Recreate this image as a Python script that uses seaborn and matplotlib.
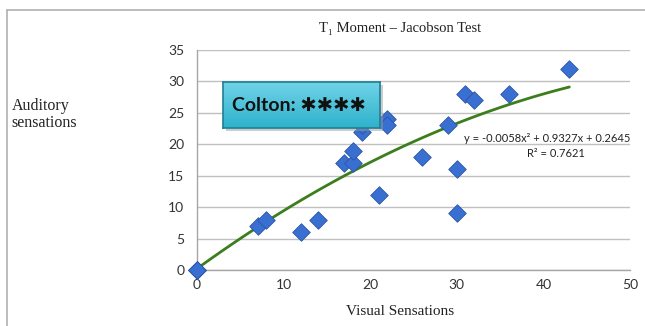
import matplotlib
matplotlib.use('Agg')
import matplotlib.pyplot as plt
import seaborn as sns
import numpy as np
import pandas as pd
from matplotlib.lines import Line2D

# values
visual = [0, 0, 0, 7, 8, 12, 14, 17, 18, 18, 19, 19, 21, 22, 22, 26, 29, 30, 30, 31, 32, 36, 43]
auditory = [0, 0, 0, 7, 8, 6, 8, 17, 17, 19, 22, 23, 12, 24, 23, 18, 23, 16, 9, 28, 27, 28, 32]
y_ticks = [0, 5, 10, 15, 20, 25, 30, 35]
x_ticks = [0, 10, 20, 30, 40, 50]
equation = "y = -0.0058x² + 0.9327x + 0.2645"
r_squared = "R² = 0.7621"

df = pd.DataFrame({"Visual": visual, "Auditory": auditory})

sns.set_style("white")
plt.rcParams['font.family'] = ['Lato', 'DejaVu Sans']

fig = plt.figure(figsize=(6.45, 3.26), dpi=100)
ax = fig.add_axes([0.3054, 0.1718, 0.6713, 0.6748])

# quadratic trendline, fitted by seaborn
sns.regplot(data=df, x="Visual", y="Auditory", order=2, ci=None, scatter=False,
            truncate=True, line_kws={"color": "#3c7d1c", "lw": 2.0, "zorder": 2}, ax=ax)
sns.scatterplot(data=df, x="Visual", y="Auditory", marker="D", s=80, color="#3a6fd2",
                edgecolor="#2a55a8", linewidth=0.6, zorder=3, clip_on=False, ax=ax)

ax.set_xlim(0, 50)
ax.set_ylim(0, 35)
ax.set_xticks(x_ticks)
ax.set_yticks(y_ticks)
ax.set_xlabel("")
ax.set_ylabel("")
ax.yaxis.grid(True, color="#c0c0c0", lw=1.0)
ax.set_axisbelow(True)
for side in ["top", "right"]:
    ax.spines[side].set_visible(False)
for side in ["left", "bottom"]:
    ax.spines[side].set_color("#a6a6a6")
    ax.spines[side].set_linewidth(1.0)
ax.tick_params(axis="x", direction="inout", length=5, color="#a6a6a6", labelsize=10,
               labelcolor="#333333", pad=4)
ax.tick_params(axis="y", direction="out", length=4, color="#a6a6a6", labelsize=10,
               labelcolor="#333333", pad=5)

ax.text(1.0, 0.60, equation, transform=ax.transAxes, ha="right", va="center",
        fontsize=8, color="#222222")
ax.text(0.83, 0.53, r_squared, transform=ax.transAxes, ha="center", va="center",
        fontsize=8, color="#222222")

serif = ['Liberation Serif', 'DejaVu Serif']
fig.text(0.62, 0.912, "T₁ Moment – Jacobson Test", ha="center", va="center",
         fontsize=10.5, family=serif, color="#222222")
fig.text(0.62, 0.043, "Visual Sensations", ha="center", va="center",
         fontsize=11, family=serif, color="#222222")
fig.text(0.018, 0.65, "Auditory\nsensations", ha="left", va="center",
         fontsize=11.5, family=serif, color="#222222", linespacing=1.1)

# Colton label box with a vertical gradient and a soft shadow
shadow = fig.add_axes([0.3497, 0.5994, 0.2434, 0.141])
shadow.set_facecolor("#9a9a9a")
shadow.patch.set_alpha(0.5)
shadow.set_xticks([])
shadow.set_yticks([])
for s in shadow.spines.values():
    s.set_visible(False)
bax = fig.add_axes([0.3457, 0.6074, 0.2434, 0.141])
grad = np.linspace(0, 1, 64).reshape(-1, 1)
cmap = matplotlib.colors.LinearSegmentedColormap.from_list("box", ["#6fd3e6", "#2fb2cc"])
bax.imshow(grad, aspect="auto", cmap=cmap, extent=[0, 1, 0, 1])
bax.set_xticks([])
bax.set_yticks([])
for s in bax.spines.values():
    s.set_color("#1f7f95")
    s.set_linewidth(1.2)
bax.text(0.06, 0.48, "Colton: ✱✱✱✱", ha="left", va="center", fontsize=14,
         fontweight="bold", color="#111111", transform=bax.transAxes,
         family=['Lato', 'DejaVu Sans'])

# thin frame on top and left of the picture
fig.add_artist(Line2D([7 / 645, 1], [1 - 10 / 326, 1 - 10 / 326], transform=fig.transFigure,
                      color="#b0b0b0", lw=1.2))
fig.add_artist(Line2D([7 / 645, 7 / 645], [0, 1 - 10 / 326], transform=fig.transFigure,
                      color="#b0b0b0", lw=1.2))

fig.savefig("out.png", dpi=100)
